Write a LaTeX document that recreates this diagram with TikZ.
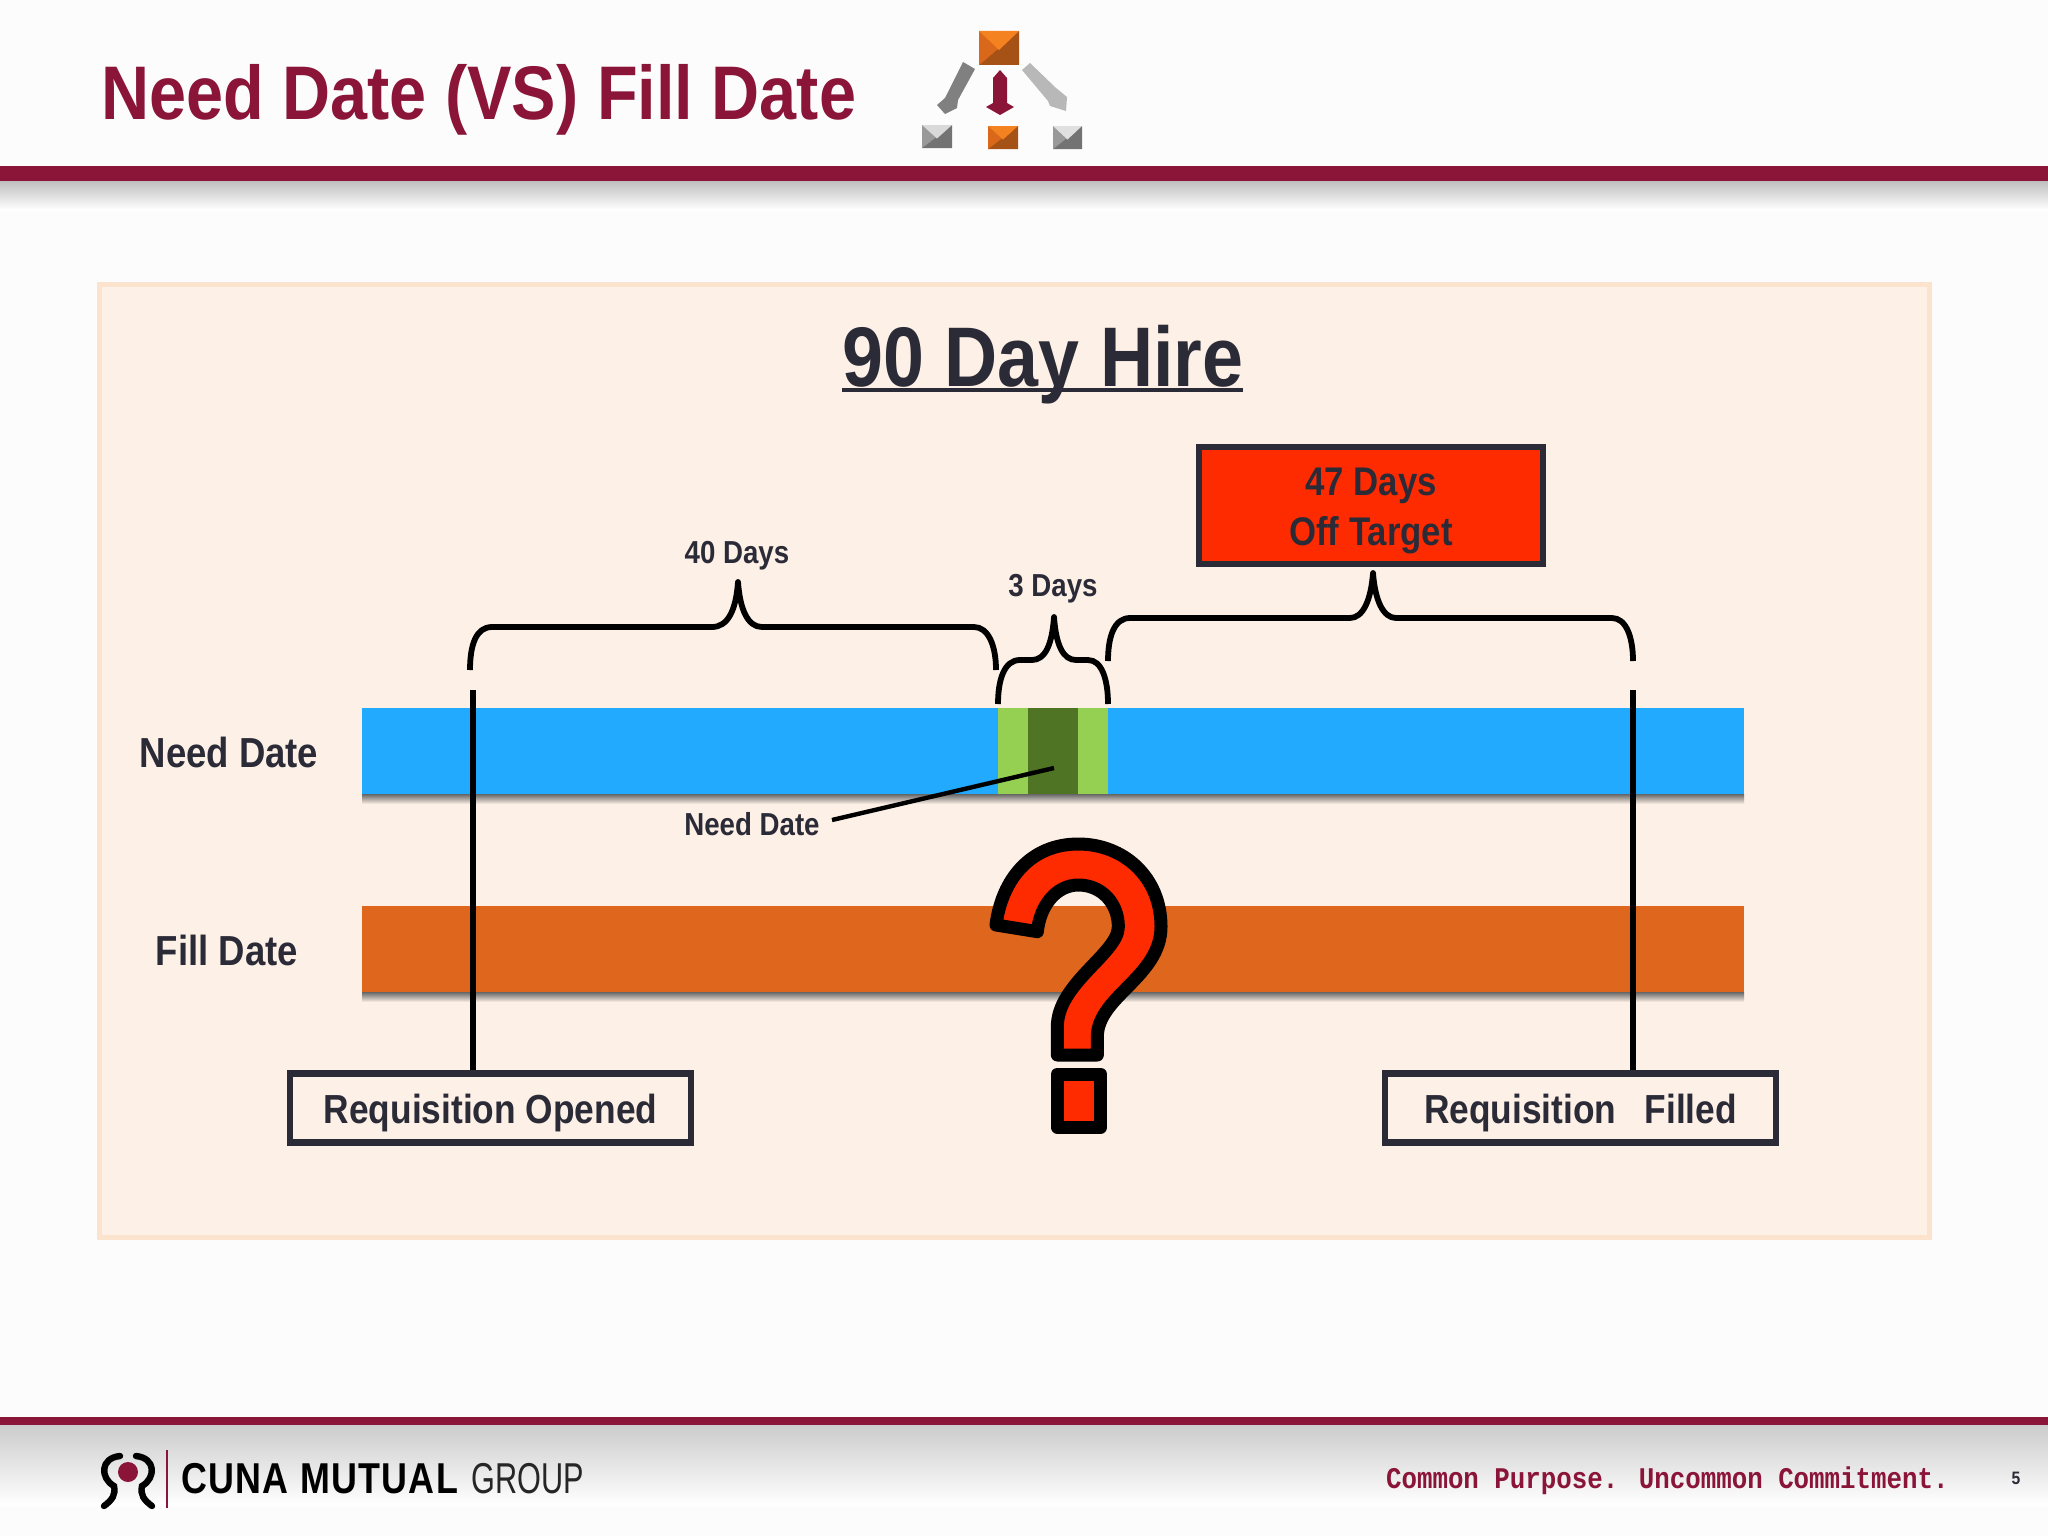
\documentclass[tikz,border=0pt]{standalone}
\usepackage{fontspec}
\setmainfont{Liberation Sans}
\newfontfamily\demi[FakeStretch=0.87]{Liberation Sans Bold}
\newfontfamily\ttl[FakeStretch=0.876]{Liberation Sans Bold}
\newfontfamily\monof[FakeStretch=0.86]{Liberation Mono Bold}
\newfontfamily\cunab[FakeStretch=0.83,LetterSpace=3]{Liberation Sans Bold}
\newfontfamily\cunar[FakeStretch=0.71]{Liberation Sans}
\definecolor{maroon}{HTML}{8A1538}
\definecolor{ink}{HTML}{2B2B38}
\definecolor{panel}{HTML}{FDF0E6}
\definecolor{panelb}{HTML}{FBE3CE}
\definecolor{hot}{HTML}{FF2B00}
\definecolor{sky}{HTML}{22AAFF}
\definecolor{rust}{HTML}{DE671D}
\definecolor{lime}{HTML}{95D053}
\definecolor{moss}{HTML}{4F7423}
\definecolor{org}{HTML}{F58220}
\definecolor{orgm}{HTML}{D9681A}
\definecolor{orgd}{HTML}{A65216}
\newcommand{\fpx}[1]{\fontsize{#1}{#1}\selectfont}
\newcommand{\bevel}[7]{%
 \fill[#6] (#1,#2) rectangle (#3,#4);
 \fill[#7] (#1,#4) -- (#3,#4) -- (#3,#2) -- ({(#1+#3)/2},{(#2+#4)/2}) -- cycle;
 \fill[#6] (#1,#4) -- (#1,#2) -- ({(#1+#3)/2},{(#2+#4)/2}) -- cycle;
 \fill[#5] (#1,#2) -- (#3,#2) -- ({(#1+#3)/2},{(#2+#4)/2+2}) -- cycle;
}
\tikzset{
 x=0.5pt,y=-0.5pt,
 txt/.style={text=ink,inner sep=0pt,font=\demi},
 lab/.style={txt,font=\demi\fpx{15.9}},
 bandlabel/.style={txt,font=\demi\fpx{21}},
 reqbox/.style={draw=ink,line width=3.1pt,fill=panel,inner sep=0pt,text=ink,font=\demi\fpx{20.3},minimum height=34.5pt,text height=20pt,text depth=4.6pt},
 brace/.style={draw=black,line width=2.9pt,line join=round},
 rule/.style={draw=black,line width=2.8pt}
}
\begin{document}
\begin{tikzpicture}
\useasboundingbox (0,0) rectangle (2048,1536);
\fill[white!99!black] (0,0) rectangle (2048,1536);
% header
\shade[top color=black!25,bottom color=white] (0,181) rectangle (2048,210);
\fill[maroon] (0,166) rectangle (2048,181);
\node[anchor=west,inner sep=0pt,text=maroon,font=\ttl\fpx{38}] (title) at (101,100) {Need Date (VS) Fill Date};
% icon
\bevel{979}{31}{1019}{65}{org}{orgm}{orgd}
\bevel{922}{125}{952}{148}{black!15}{black!40}{black!55}
\bevel{988}{126}{1018}{149}{org}{orgm}{orgd}
\bevel{1053}{126}{1082}{149}{black!12}{black!40}{black!55}
\fill[maroon] (1000,70) -- (1007,78) -- (1007,103) -- (1014,107) -- (1000,115) -- (986,107) -- (993,103) -- (993,78) -- cycle;
\fill[black!50] (975,69) -- (958,100) -- (957,108) -- (945,114) -- (937,105) -- (945,98) -- (963,62) -- cycle;
\fill[black!28] (1022,70) -- (1030,63) -- (1056,88) -- (1067,97) -- (1066,111) -- (1050,106) -- (1048,101) -- cycle;
% panel
\draw[draw=panelb,fill=panel,line width=2.5pt] (99,284) rectangle (1929,1237);
\node[txt,font=\demi\fpx{42.3}] (hire) at (1043,365) {90 Day Hire};
\draw[ink,line width=1.6pt] (842,390) -- (1243,390);
% bars
\shade[top color=black!60,bottom color=panel] (362,794) rectangle (1744,804);
\fill[sky] (362,708) rectangle (1744,794);
\fill[lime] (998,708) rectangle (1108,794);
\fill[moss] (1028,708) rectangle (1078,794);
\shade[top color=black!60,bottom color=panel] (362,992) rectangle (1744,1002);
\fill[rust] (362,906) rectangle (1744,992);
\node[bandlabel] (needlab) at (229,752) {Need Date};
\node[bandlabel] (filllab) at (227,950) {Fill Date};
% boxes
\node[reqbox,minimum width=203.5pt-3.1pt] (ropen) at (490.5,1108) {Requisition Opened};
\node[reqbox,minimum width=198.5pt-3.1pt] (rfill) at (1580.5,1108) {Requisition\hspace{.7em}Filled};
\node[draw=ink,line width=3.1pt,fill=hot,inner sep=0pt,minimum width=175pt-3.1pt,minimum height=61.5pt-3.1pt,align=center,text=ink,font=\demi\fpx{20}] (off) at (1371,505.5) {\rule{0pt}{19.5pt}47 Days\\[5pt]Off Target};
% connectors
\coordinate (vl) at (473,690);
\coordinate (vr) at (1633,690);
\draw[rule] (vl) -- (vl |- ropen.north);
\draw[rule] (vr) -- (vr |- rfill.north);
% braces
\draw[brace] (470,670) .. controls (470,645) and (476,627) .. (492,627) -- (712,627) .. controls (728,627) and (736,610) .. (738,582) .. controls (740,610) and (748,627) .. (762,627) -- (974,627) .. controls (988,627) and (996,645) .. (996,670);
\draw[brace] (998,704) .. controls (998,680) and (1004,660) .. (1020,660) -- (1032,660) .. controls (1045,660) and (1052,645) .. (1054,617) .. controls (1056,645) and (1063,660) .. (1076,660) -- (1088,660) .. controls (1102,660) and (1108,680) .. (1108,704);
\draw[brace] (1108,661) .. controls (1108,637) and (1114,618) .. (1130,618) -- (1350,618) .. controls (1363,618) and (1371,600) .. (1373,573) .. controls (1375,600) and (1383,618) .. (1396,618) -- (1612,618) .. controls (1626,618) and (1633,637) .. (1633,661);
\node[lab] (d40) at (737,556) {40 Days};
\node[lab] (d3) at (1053,589) {3 Days};
\node[lab] (nd) at (752,824) {Need Date};
\coordinate (ndtip) at (1054,768);
\draw[black,line width=2.2pt] (832,820) -- (ndtip);
% question mark
\begin{scope}[shift={(960,820)},x=0.16667pt,y=-0.16667pt]
\draw[black,line width=6.5pt,fill=hot,line join=round] (108,315) -- (232,335) .. controls (240,255) and (290,195) .. (355,195) .. controls (425,195) and (475,250) .. (475,320) .. controls (475,400) and (292,490) .. (292,620) -- (292,705) -- (412,705) -- (412,650) .. controls (412,530) and (603,470) .. (603,320) .. controls (603,170) and (490,72) .. (355,72) .. controls (210,72) and (125,180) .. (108,315) -- cycle;
\draw[black,line width=6.5pt,fill=hot,line join=round] (292,762) rectangle (422,922);
\end{scope}
% footer
\shade[top color=black!20,bottom color=white] (0,1425) rectangle (2048,1505);
\fill[maroon] (0,1417) rectangle (2048,1425);
\draw[black,line width=3.2pt,line cap=round] (120,1456) .. controls (100,1458) and (100,1478) .. (114,1486) .. controls (116,1495) and (112,1500) .. (104,1506);
\draw[black,line width=3.2pt,line cap=round] (136,1456) .. controls (156,1458) and (156,1478) .. (142,1486) .. controls (140,1495) and (144,1500) .. (152,1506);
\fill[maroon] (128,1472) circle (10);
\draw[maroon,line width=1pt] (167,1450) -- (167,1508);
\node[anchor=west,inner sep=0pt,text=black,font=\cunab\fpx{21.6}] (cuna) at (181,1479) {CUNA MUTUAL};
\node[anchor=west,inner sep=0pt,text=black!85,font=\cunar\fpx{21.6}] (grp) at (471,1479) {GROUP};
\node[anchor=east,inner sep=0pt,text=maroon,font=\monof\fpx{15}] (tag) at (1949,1481) {Common Purpose. Uncommon Commitment.};
\node[inner sep=0pt,text=ink,font=\demi\fpx{9}] (pg) at (2016,1478) {5};
\end{tikzpicture}
\end{document}
